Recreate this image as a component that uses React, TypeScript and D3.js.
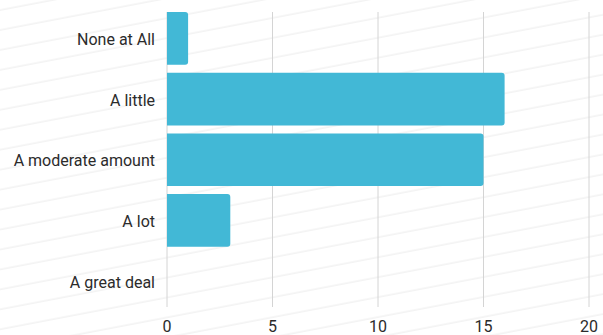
import React from "react";
import * as d3 from "d3";

const categories = ["None at All", "A little", "A moderate amount", "A lot", "A great deal"];
const values = [1, 16, 15, 3, 0];
const xTicks = [0, 5, 10, 15, 20];

const W = 603;
const H = 335;

export default function App() {
  const x = d3.scaleLinear().domain([0, 20]).range([167, 589]);
  const y = d3
    .scaleBand<string>()
    .domain(categories)
    .range([12, 307.5])
    .paddingInner(0.132)
    .paddingOuter(0);
  const bw = y.bandwidth();
  const r = 3;

  const barPath = (v: number, cat: string) => {
    const x0 = x(0);
    const x1 = x(v);
    const y0 = y(cat)!;
    const y1 = y0 + bw;
    const w = x1 - x0;
    if (w <= 0) return "";
    const rr = Math.min(r, w);
    return `M${x0},${y0}H${x1 - rr}Q${x1},${y0} ${x1},${y0 + rr}V${y1 - rr}Q${x1},${y1} ${x1 - rr},${y1}H${x0}Z`;
  };

  return (
    <svg
      width={W}
      height={H}
      style={{ position: "absolute", left: 0, top: 0, background: "#fff" }}
      fontFamily="Roboto, sans-serif"
    >
      <defs>
        <pattern
          id="stripes"
          patternUnits="userSpaceOnUse"
          width={40}
          height={19.6}
          patternTransform="rotate(-10.8)"
        >
          <line x1={0} x2={40} y1={10} y2={10} stroke="#efefef" strokeWidth={1.3} />
        </pattern>
      </defs>
      <rect x={0} y={0} width={W} height={H} fill="#fff" />
      <rect x={0} y={0} width={W} height={H} fill="url(#stripes)" />
      <g>
        {xTicks.map((t) => (
          <line
            key={t}
            x1={x(t)}
            x2={x(t)}
            y1={12}
            y2={307}
            stroke="#d4d4d4"
            strokeWidth={1}
          />
        ))}
      </g>
      <g>
        {categories.map((c, i) => (
          <path key={c} d={barPath(values[i], c)} fill="#42b8d6" />
        ))}
      </g>
      <g fontSize={16} fill="#2b2b2b">
        {categories.map((c) => (
          <text key={c} x={155} y={y(c)! + bw / 2 + 6.5} textAnchor="end">
            {c}
          </text>
        ))}
        {xTicks.map((t) => (
          <text key={t} x={x(t)} y={331.5} textAnchor="middle">
            {t}
          </text>
        ))}
      </g>
    </svg>
  );
}
